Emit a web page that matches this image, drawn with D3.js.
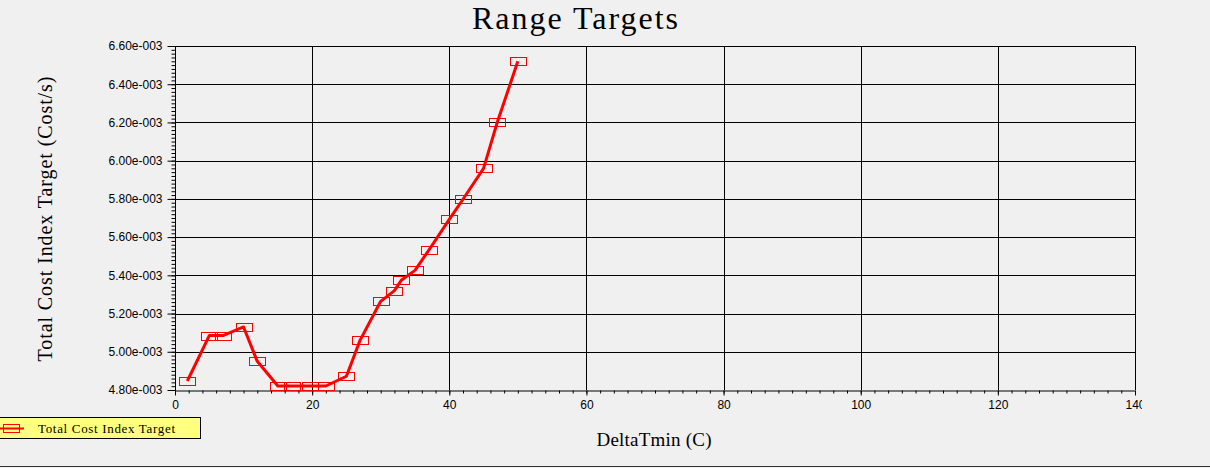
<!DOCTYPE html>
<html>
<head>
<meta charset="utf-8">
<script src="https://cdn.jsdelivr.net/npm/d3@7"></script>
<style>
  html, body { margin: 0; padding: 0; background: #f0f0f0; }
  svg { display: block; }
  .tick_text { font-family: "Liberation Sans", Arial, sans-serif; font-size: 12px; fill: #000; }
  .big_text { font-family: "Liberation Serif", "DejaVu Serif", serif; fill: #000; }
</style>
</head>
<body>
<div id="chart"></div>
<script>
// values
const delta_tmin = [1.8, 5, 7, 10, 12, 15, 17, 19.7, 22, 25, 27, 30, 32, 33, 35, 37, 40, 42, 45, 47, 50];
const cost_index = [4.847e-3, 5.085e-3, 5.085e-3, 5.130e-3, 4.950e-3, 4.821e-3, 4.821e-3, 4.821e-3, 4.821e-3,
                    4.872e-3, 5.061e-3, 5.264e-3, 5.320e-3, 5.374e-3, 5.426e-3, 5.531e-3, 5.693e-3,
                    5.798e-3, 5.960e-3, 6.201e-3, 6.520e-3];
const x_ticks = [0, 20, 40, 60, 80, 100, 120, 140];
const y_ticks = [4.8e-3, 5.0e-3, 5.2e-3, 5.4e-3, 5.6e-3, 5.8e-3, 6.0e-3, 6.2e-3, 6.4e-3, 6.6e-3];
const series_name = "Total Cost Index Target";
const chart_title = "Range Targets";
const x_label = "DeltaTmin (C)";
const y_label = "Total Cost Index Target (Cost/s)";

let chart_width = 1210;
let chart_height = 468;

let plot_left = 175, plot_right = 1135, plot_top = 46, plot_bottom = 390;

let svg = d3.select("#chart")
    .append("svg")
    .attr("width", chart_width)
    .attr("height", chart_height);

let xScale = d3.scaleLinear().domain([0, 140]).range([plot_left, plot_right]);
let yScale = d3.scaleLinear().domain([4.8e-3, 6.6e-3]).range([plot_bottom, plot_top]);

// minor tick values (every 2 on x, every 0.02e-3 on y)
let x_minor = d3.range(0, 141, 2);
let y_minor = d3.range(0, 91).map(function(i) { return 4.8e-3 + i * 0.02e-3; });

// grid lines
svg.append("g")
    .selectAll("line.vgrid")
    .data(x_ticks.slice(1))
    .enter()
    .append("line")
    .attr("x1", function(d) { return Math.round(xScale(d)) + 0.5; })
    .attr("x2", function(d) { return Math.round(xScale(d)) + 0.5; })
    .attr("y1", plot_top)
    .attr("y2", plot_bottom)
    .attr("stroke", "#000")
    .attr("stroke-width", 1);

svg.append("g")
    .selectAll("line.hgrid")
    .data(y_ticks.slice(1))
    .enter()
    .append("line")
    .attr("x1", plot_left)
    .attr("x2", plot_right)
    .attr("y1", function(d) { return Math.round(yScale(d)) + 0.5; })
    .attr("y2", function(d) { return Math.round(yScale(d)) + 0.5; })
    .attr("stroke", "#000")
    .attr("stroke-width", 1);

// y axis
let y_axis = svg.append("g").attr("transform", "translate(" + (plot_left + 0.5) + ",0)");
y_axis.call(d3.axisLeft(yScale).tickValues(y_minor).tickSize(4).tickFormat(""));
y_axis.select(".domain").remove();
let y_major = svg.append("g").attr("transform", "translate(" + (plot_left + 0.5) + ",0)");
y_major.call(d3.axisLeft(yScale)
    .tickValues(y_ticks)
    .tickSize(8)
    .tickPadding(5)
    .tickFormat(function(d) { return (d * 1000).toFixed(2) + "e-003"; }));
y_major.selectAll("text")
    .attr("class", "tick_text")
    .attr("font-family", null)
    .attr("font-size", null)
    .attr("textLength", 54)
    .attr("lengthAdjust", "spacing");
y_major.select(".domain").attr("d", "M0," + plot_top + "V" + plot_bottom);

// x axis
let x_axis = svg.append("g").attr("transform", "translate(0," + (plot_bottom + 0.5) + ")");
x_axis.call(d3.axisBottom(xScale).tickValues(x_minor).tickSize(3).tickFormat(""));
x_axis.select(".domain").remove();
svg.append("clipPath").attr("id", "xclip")
    .append("rect").attr("x", 0).attr("y", 0).attr("width", 1142).attr("height", chart_height);
let x_major = svg.append("g")
    .attr("transform", "translate(0," + (plot_bottom + 0.5) + ")")
    .attr("clip-path", "url(#xclip)");
x_major.call(d3.axisBottom(xScale).tickValues(x_ticks).tickSize(5).tickPadding(5).tickFormat(d3.format("d")));
x_major.selectAll("text").attr("class", "tick_text").attr("font-family", null).attr("font-size", null);
x_major.select(".domain").attr("d", "M" + plot_left + ",0H" + plot_right).attr("stroke-width", 2);
svg.selectAll(".tick line").attr("stroke", "#000");

// top frame
svg.append("line")
    .attr("x1", plot_left).attr("x2", plot_right)
    .attr("y1", plot_top + 0.5).attr("y2", plot_top + 0.5)
    .attr("stroke", "#000");

// markers
let points = delta_tmin.map(function(d, i) { return [d, cost_index[i]]; });

svg.append("g")
    .selectAll("rect")
    .data(points)
    .enter()
    .append("rect")
    .attr("x", function(d) { return Math.round(xScale(d[0])) - 8 + 0.5; })
    .attr("y", function(d) { return Math.round(yScale(d[1])) - 4 + 0.5; })
    .attr("width", 16)
    .attr("height", 8)
    .attr("fill", "none")
    .attr("stroke", "#ff0000")
    .attr("stroke-width", 1);

// the line
let line = d3.line()
    .x(function(d) { return xScale(d[0]); })
    .y(function(d) { return yScale(d[1]); });

svg.append("path")
    .datum(points)
    .attr("d", line)
    .attr("fill", "none")
    .attr("stroke", "#ff0000")
    .attr("stroke-width", 3)
    .attr("stroke-linejoin", "round");

// title and labels
svg.append("text")
    .attr("class", "big_text")
    .attr("x", 575)
    .attr("y", 29)
    .attr("text-anchor", "middle")
    .attr("font-size", "32px")
    .attr("textLength", 206)
    .attr("lengthAdjust", "spacing")
    .text(chart_title);

svg.append("text")
    .attr("class", "big_text")
    .attr("x", 654)
    .attr("y", 446)
    .attr("text-anchor", "middle")
    .attr("font-size", "19px")
    .attr("textLength", 115)
    .attr("lengthAdjust", "spacing")
    .text(x_label);

svg.append("text")
    .attr("class", "big_text")
    .attr("transform", "translate(52,219) rotate(-90)")
    .attr("text-anchor", "middle")
    .attr("font-size", "20px")
    .attr("textLength", 285)
    .attr("lengthAdjust", "spacing")
    .text(y_label);

// legend
let legend = svg.append("g");
legend.append("rect")
    .attr("x", -1.5)
    .attr("y", 417.5)
    .attr("width", 202)
    .attr("height", 21)
    .attr("fill", "#ffff80")
    .attr("stroke", "#000")
    .attr("stroke-width", 1);
legend.append("line")
    .attr("x1", 0).attr("x2", 24)
    .attr("y1", 428.5).attr("y2", 428.5)
    .attr("stroke", "#ff0000")
    .attr("stroke-width", 2);
legend.append("rect")
    .attr("x", 3.5).attr("y", 424.5)
    .attr("width", 16).attr("height", 8)
    .attr("fill", "none")
    .attr("stroke", "#ff0000");
legend.append("text")
    .attr("class", "big_text")
    .attr("x", 38)
    .attr("y", 433)
    .attr("font-size", "13px")
    .attr("textLength", 137)
    .attr("lengthAdjust", "spacing")
    .text(series_name);

// bottom border line
svg.append("line")
    .attr("x1", 0).attr("x2", chart_width)
    .attr("y1", 466.5).attr("y2", 466.5)
    .attr("stroke", "#333")
    .attr("stroke-width", 1);
</script>
</body>
</html>
